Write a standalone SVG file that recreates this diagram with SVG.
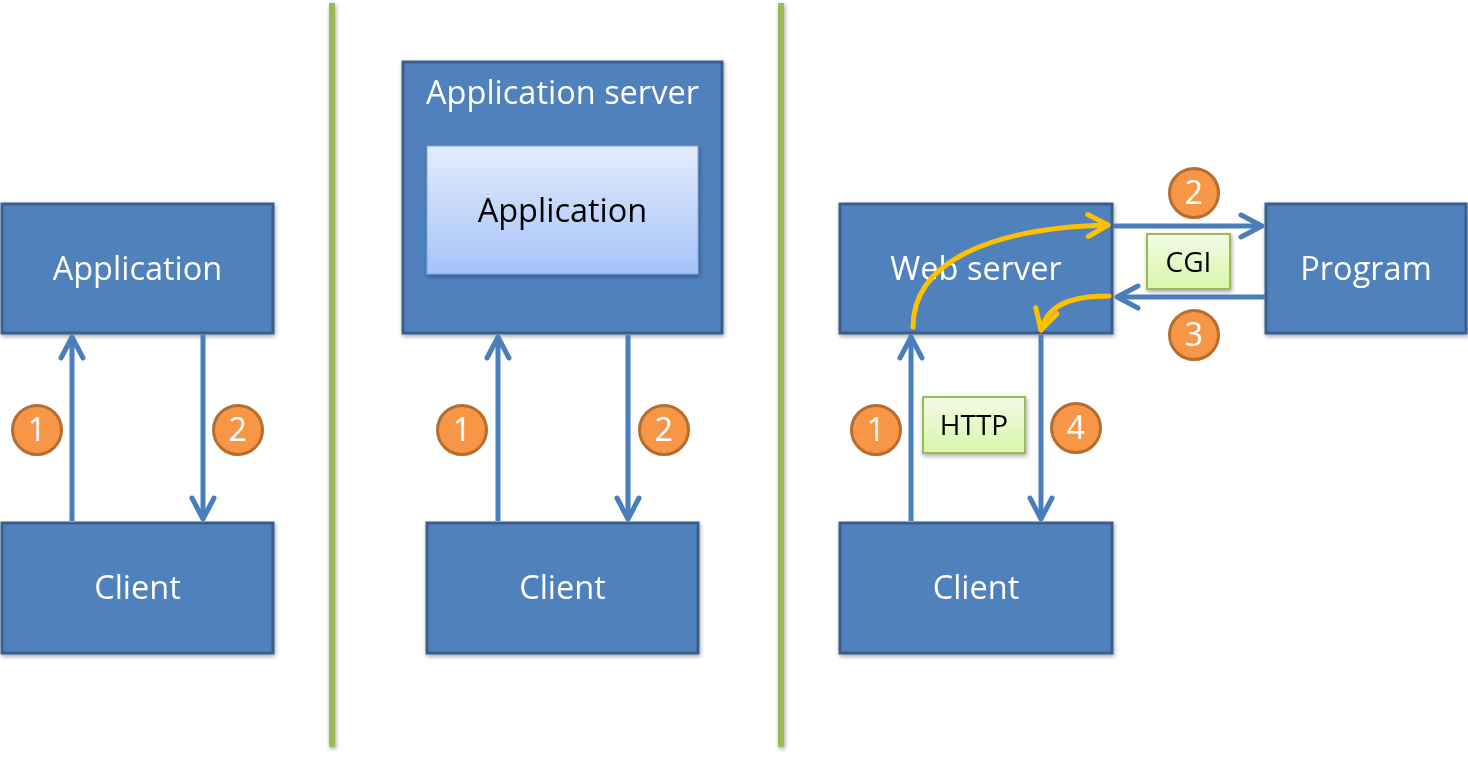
<svg xmlns="http://www.w3.org/2000/svg" width="1468" height="761" viewBox="0 0 1468 761">
<style>
.box{fill:#4F81BD;stroke:#3A5F8C;stroke-width:3}
.lbl{font-family:"Open Sans","Noto Sans",sans-serif;font-size:32.5px;fill:#FFFFFF;text-anchor:middle}
.dark{fill:#000000}
.small{font-size:28px}
.conn{fill:none;stroke:#4A7EBB;stroke-width:5}
.yel{fill:none;stroke:#FFC000;stroke-width:5;stroke-linecap:round}
.num circle{fill:#F79646;stroke:#B66D31;stroke-width:3}
.num text{font-family:"Open Sans","Noto Sans",sans-serif;font-size:32px;fill:#FFFFFF;text-anchor:middle}
.tag{fill:url(#gGreen);stroke:#9BBB59;stroke-width:2}
.sep{stroke:#9BBB59;stroke-width:6}
</style>
<defs>
<linearGradient id="gApp" x1="0" y1="0" x2="0" y2="1">
<stop offset="0" stop-color="#E3ECFC"/>
<stop offset="1" stop-color="#A5C3F9"/>
</linearGradient>
<linearGradient id="gGreen" x1="0" y1="0" x2="0" y2="1">
<stop offset="0" stop-color="#F3FBE6"/>
<stop offset="1" stop-color="#D8F6A8"/>
</linearGradient>
<filter id="sh" x="-10%" y="-10%" width="125%" height="130%">
<feDropShadow dx="1" dy="2" stdDeviation="2" flood-color="#000" flood-opacity="0.35"/>
</filter>
<marker id="ab" markerUnits="userSpaceOnUse" markerWidth="40" markerHeight="40" viewBox="-30 -20 40 40" refX="0" refY="0" orient="auto">
<path d="M-21,-11 L0,0 L-21,11" fill="none" stroke="#4A7EBB" stroke-width="5" stroke-linecap="round" stroke-linejoin="round"/>
</marker>
<marker id="ay" markerUnits="userSpaceOnUse" markerWidth="40" markerHeight="40" viewBox="-30 -20 40 40" refX="0" refY="0" orient="auto">
<path d="M-20,-11 L0,0 L-20,11" fill="none" stroke="#FFC000" stroke-width="5" stroke-linecap="round" stroke-linejoin="round"/>
</marker>
</defs>
<rect width="1468" height="761" fill="#FFFFFF"/>

<g id="separators" filter="url(#sh)">
<line class="sep" x1="332" y1="3" x2="332" y2="747"/>
<line class="sep" x1="781" y1="3" x2="781" y2="747"/>
</g>

<g id="left-application" filter="url(#sh)">
<rect class="box" x="2" y="204" width="271" height="129"/>
<text class="lbl" x="137.5" y="280">Application</text>
</g>
<g id="left-client" filter="url(#sh)">
<rect class="box" x="2" y="523" width="271" height="130"/>
<text class="lbl" x="137.5" y="599">Client</text>
</g>

<g id="app-server" filter="url(#sh)">
<rect class="box" x="403" y="62" width="319" height="271"/>
<text class="lbl" x="562.5" y="104">Application server</text>
</g>
<g id="inner-application" filter="url(#sh)">
<rect x="427" y="146" width="271" height="128" fill="url(#gApp)" stroke="#7EA6E0" stroke-width="1"/>
<text class="lbl dark" x="562.5" y="222">Application</text>
</g>
<g id="mid-client" filter="url(#sh)">
<rect class="box" x="427" y="523" width="271" height="130"/>
<text class="lbl" x="562.5" y="599">Client</text>
</g>

<g id="web-server" filter="url(#sh)">
<rect class="box" x="840" y="204" width="272" height="129"/>
<text class="lbl" x="976" y="280">Web server</text>
</g>
<g id="program" filter="url(#sh)">
<rect class="box" x="1266" y="204" width="200" height="129"/>
<text class="lbl" x="1366" y="280">Program</text>
</g>
<g id="right-client" filter="url(#sh)">
<rect class="box" x="840" y="523" width="272" height="130"/>
<text class="lbl" x="976" y="599">Client</text>
</g>

<g id="connectors">
<line class="conn" x1="72" y1="521" x2="72" y2="337" marker-end="url(#ab)"/>
<line class="conn" x1="203" y1="335" x2="203" y2="519" marker-end="url(#ab)"/>
<line class="conn" x1="498" y1="521" x2="498" y2="337" marker-end="url(#ab)"/>
<line class="conn" x1="628" y1="335" x2="628" y2="519" marker-end="url(#ab)"/>
<line class="conn" x1="911" y1="521" x2="911" y2="337" marker-end="url(#ab)"/>
<line class="conn" x1="1041" y1="335" x2="1041" y2="519" marker-end="url(#ab)"/>
<line class="conn" x1="1113" y1="226" x2="1262" y2="226" marker-end="url(#ab)"/>
<line class="conn" x1="1265" y1="297" x2="1117" y2="297" marker-end="url(#ab)"/>
<path class="yel" d="M913,327 C913,262 990,228 1108,225" marker-end="url(#ay)"/>
<path class="yel" d="M1109,296 C1070,296 1048,305 1041,330" marker-end="url(#ay)"/>
</g>

<g id="tag-cgi" filter="url(#sh)">
<rect class="tag" x="1147" y="234" width="83" height="55"/>
<text class="lbl dark small" x="1188.5" y="272">CGI</text>
</g>
<g id="tag-http" filter="url(#sh)">
<rect class="tag" x="923" y="397" width="102" height="56"/>
<text class="lbl dark small" x="974" y="435">HTTP</text>
</g>

<g id="badges">
<g class="num"><circle cx="37" cy="430" r="24.5"/><text x="37" y="441">1</text></g>
<g class="num"><circle cx="238" cy="430" r="24.5"/><text x="238" y="441">2</text></g>
<g class="num"><circle cx="462" cy="430" r="24.5"/><text x="462" y="441">1</text></g>
<g class="num"><circle cx="664" cy="430" r="24.5"/><text x="664" y="441">2</text></g>
<g class="num"><circle cx="876" cy="430" r="24.5"/><text x="876" y="441">1</text></g>
<g class="num"><circle cx="1076" cy="428" r="24.5"/><text x="1076" y="439">4</text></g>
<g class="num"><circle cx="1194" cy="193" r="24.5"/><text x="1194" y="204">2</text></g>
<g class="num"><circle cx="1194" cy="335" r="24.5"/><text x="1194" y="346">3</text></g>
</g>
</svg>
